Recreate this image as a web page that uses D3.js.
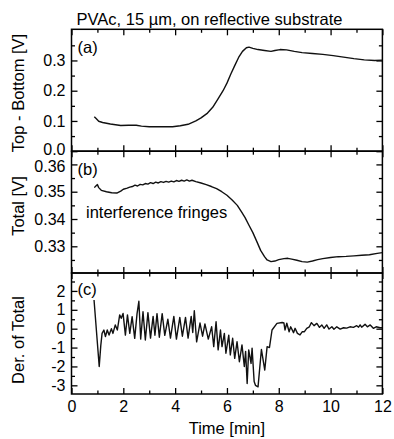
<!DOCTYPE html>
<html><head><meta charset="utf-8">
<script src="https://cdn.jsdelivr.net/npm/d3@7"></script>
<style>html,body{margin:0;padding:0;background:#fff;}svg{display:block;}</style>
</head><body>
<svg id="chart" width="394" height="439"></svg>
<script>
// ---------- data ----------
const titleText = "PVAc, 15 µm, on reflective substrate";
const xLabel = "Time [min]";
const xMajorTicks = [0, 2, 4, 6, 8, 10, 12];
const xMinorTicks = [1, 3, 5, 7, 9, 11];

const panelLabels = ["(a)", "(b)", "(c)"];
const yLabels = ["Top - Bottom [V]", "Total [V]", "Der. of Total"];
const annotationText = "interference fringes";

const yTicksA = [0.0, 0.1, 0.2, 0.3];
const yMinorA = [0.05, 0.15, 0.25, 0.35];
const yTicksB = [0.33, 0.34, 0.35, 0.36];
const yMinorB = [0.325, 0.335, 0.345, 0.355];
const yTicksC = [-3, -2, -1, 0, 1, 2];
const yMinorC = [-2.5, -1.5, -0.5, 0.5, 1.5, 2.5];

// (a) Top - Bottom [V]
const timeA = [0.88,0.95,1.05,1.2,1.5,1.9,2.2,2.5,2.7,3.0,3.5,3.9,4.2,4.5,4.8,5.0,5.25,5.45,5.65,5.85,6.0,6.15,6.3,6.45,6.6,6.75,6.85,7.0,7.2,7.45,7.7,7.85,8.05,8.3,8.6,8.9,9.3,9.7,10.1,10.5,10.9,11.3,11.7,12.0];
const topBottom = [0.114,0.108,0.099,0.095,0.090,0.085,0.086,0.086,0.083,0.081,0.081,0.081,0.084,0.089,0.100,0.110,0.126,0.145,0.172,0.200,0.225,0.255,0.283,0.310,0.330,0.342,0.344,0.340,0.336,0.333,0.330,0.333,0.336,0.335,0.330,0.326,0.323,0.320,0.316,0.311,0.306,0.302,0.300,0.301];

// (b) Total [V]
const timeB = [0.88,0.95,1.0,1.05,1.15,1.35,1.55,1.75,1.9,2.0,2.15,2.25,2.35,2.45,2.55,2.65,2.75,2.85,2.95,3.05,3.15,3.25,3.35,3.45,3.55,3.65,3.75,3.85,3.95,4.05,4.15,4.25,4.35,4.45,4.55,4.65,4.8,5.0,5.2,5.4,5.6,5.8,6.0,6.2,6.4,6.55,6.7,6.85,7.0,7.15,7.3,7.45,7.55,7.7,7.85,8.0,8.2,8.35,8.5,8.7,8.9,9.1,9.3,9.5,9.7,10.0,10.3,10.6,10.9,11.2,11.5,11.8,12.0];
const total = [0.3515,0.3522,0.3526,0.3515,0.3505,0.3500,0.3496,0.3495,0.3502,0.3509,0.3513,0.3517,0.3519,0.3524,0.3521,0.3527,0.3525,0.3530,0.3528,0.3533,0.3530,0.3535,0.3532,0.3537,0.3534,0.3538,0.3535,0.3539,0.3536,0.3541,0.3538,0.3542,0.3539,0.3543,0.3539,0.3542,0.3537,0.3532,0.3526,0.3519,0.3511,0.3500,0.3487,0.3470,0.3450,0.3428,0.3405,0.3377,0.3350,0.3318,0.3285,0.3262,0.3250,0.3244,0.3246,0.3251,0.3255,0.3256,0.3253,0.3249,0.3244,0.3242,0.3246,0.3251,0.3255,0.3259,0.3262,0.3263,0.3265,0.3267,0.3269,0.3274,0.3277];

// (c) Derivative of Total
const timeC = [0.87,1.07,1.13,1.18,1.25,1.31,1.38,1.45,1.54,1.6,1.69,1.77,1.86,1.92,1.99,2.08,2.16,2.25,2.34,2.44,2.53,2.6,2.67,2.76,2.85,2.95,3.05,3.15,3.22,3.3,3.39,3.5,3.6,3.72,3.82,3.95,4.05,4.18,4.28,4.4,4.5,4.62,4.68,4.74,4.83,4.96,5.06,5.15,5.28,5.41,5.49,5.58,5.66,5.75,5.81,5.9,5.96,6.07,6.13,6.22,6.3,6.39,6.48,6.58,6.67,6.72,6.78,6.84,6.93,6.97,7.05,7.1,7.2,7.33,7.46,7.55,7.64,7.74,7.93,8.13,8.2,8.24,8.31,8.40,8.46,8.57,8.63,8.72,8.82,8.91,8.99,9.08,9.18,9.26,9.36,9.47,9.57,9.66,9.75,9.85,9.94,10.05,10.13,10.24,10.37,10.5,10.62,10.75,10.88,11.01,11.08,11.14,11.2,11.33,11.42,11.53,11.65,11.76,11.91,12.0];
const derTotal = [1.52,-2.0,-0.9,-0.25,-0.07,-0.42,-0.07,-0.34,0.0,-0.25,0.2,-0.07,0.73,0.55,0.81,-0.34,0.73,-0.25,0.64,-0.51,0.8,1.45,-0.55,0.9,-0.6,0.85,-0.5,0.65,-0.35,0.8,-0.45,0.8,-0.35,0.5,-0.5,0.65,-0.55,0.6,-0.4,0.6,-0.5,0.65,-0.2,0.95,-0.7,0.3,-0.4,0.25,-0.55,0.1,-0.95,0.37,-1.12,-0.07,-0.95,-0.25,-1.3,-0.34,-1.39,-0.51,-1.57,-0.69,-1.75,-0.86,-2.0,-1.2,-2.9,-1.12,-1.84,-1.03,-2.8,-3.0,-3.08,-1.1,-2.19,-0.95,-1.0,-0.07,0.28,0.33,0.3,-0.07,0.29,-0.16,0.1,-0.21,0.02,-0.25,-0.33,-0.16,-0.16,0.02,0.1,0.32,0.16,0.28,0.07,0.2,0.02,0.2,-0.02,0.1,-0.03,0.1,-0.02,0.05,0.03,0.1,0.07,0.16,0.08,0.2,0.08,0.23,0.1,0.2,0.02,0.1,0.05,0.05];

// ---------- layout ----------
const FONT = "'Liberation Sans', Arial, Helvetica, sans-serif";
const FS = 16.5, TICKFS = 16;
const svg = d3.select("#chart");
const left = 71.5, right = 382.4;
const x = d3.scaleLinear().domain([0, 12]).range([left, right]);

const panels = [
  {top: 29.3, bottom: 151.2, domain: [0, 0.403], ticks: yTicksA, minor: yMinorA, fmt: d3.format(".1f"),
   t: timeA, v: topBottom, label: panelLabels[0], labelY: 53, yLabel: yLabels[0], yLabelC: 93},
  {top: 151.2, bottom: 273, domain: [0.32022, 0.36484], ticks: yTicksB, minor: yMinorB, fmt: d3.format(".2f"),
   t: timeB, v: total, label: panelLabels[1], labelY: 175, yLabel: yLabels[1], yLabelC: 206},
  {top: 273, bottom: 394, domain: [-3.46, 2.95], ticks: yTicksC, minor: yMinorC, fmt: d => String(d),
   t: timeC, v: derTotal, label: panelLabels[2], labelY: 295, yLabel: yLabels[2], yLabelC: 340}
];

const MAJ = 6, MIN = 3.5;

panels.forEach((p, i) => {
  const y = d3.scaleLinear().domain(p.domain).range([p.bottom, p.top]);
  const g = svg.append("g");
  const minorY = p.minor.filter(d => y(d) > p.top + 1 && y(d) < p.bottom - 1);

  const cid = "clip" + i;
  svg.append("clipPath").attr("id", cid).append("rect")
    .attr("x", left).attr("y", p.top).attr("width", right - left).attr("height", p.bottom - p.top);

  const styleAxis = sel => {
    sel.select(".domain").remove();
    sel.selectAll("line").attr("stroke", "#000").attr("stroke-width", 1.3);
    sel.selectAll("text").attr("font-family", FONT).attr("font-size", TICKFS).attr("fill", "#000");
  };
  const isLast = i === panels.length - 1;
  g.append("g").attr("transform", `translate(0,${p.bottom})`)
    .call(d3.axisBottom(x).tickValues(xMajorTicks).tickSize(-MAJ).tickPadding(7)
      .tickFormat(isLast ? d3.format("d") : () => ""))
    .call(styleAxis);
  g.append("g").attr("transform", `translate(0,${p.bottom})`)
    .call(d3.axisBottom(x).tickValues(xMinorTicks).tickSize(-MIN).tickFormat(() => ""))
    .call(styleAxis);
  g.append("g").attr("transform", `translate(0,${p.top})`)
    .call(d3.axisTop(x).tickValues(xMajorTicks).tickSize(-MAJ).tickFormat(() => ""))
    .call(styleAxis);
  g.append("g").attr("transform", `translate(0,${p.top})`)
    .call(d3.axisTop(x).tickValues(xMinorTicks).tickSize(-MIN).tickFormat(() => ""))
    .call(styleAxis);

  const yAx = g.append("g").attr("transform", `translate(${left},0)`)
    .call(d3.axisLeft(y).tickValues(p.ticks).tickSize(-MAJ).tickPadding(6).tickFormat(p.fmt))
    .call(styleAxis);
  // keep the bottom "0.0" of panel (a) from colliding with "0.36" of panel (b)
  if (i === 0) yAx.selectAll(".tick text").filter(d => d === 0).attr("dy", "0.2em");
  if (i === 1) yAx.selectAll(".tick text").filter(d => d === 0.36).attr("dy", "0.42em");
  g.append("g").attr("transform", `translate(${left},0)`)
    .call(d3.axisLeft(y).tickValues(minorY).tickSize(-MIN).tickFormat(() => ""))
    .call(styleAxis);
  g.append("g").attr("transform", `translate(${right},0)`)
    .call(d3.axisRight(y).tickValues(p.ticks).tickSize(-MAJ).tickFormat(() => ""))
    .call(styleAxis);
  g.append("g").attr("transform", `translate(${right},0)`)
    .call(d3.axisRight(y).tickValues(minorY).tickSize(-MIN).tickFormat(() => ""))
    .call(styleAxis);

  g.append("rect").attr("x", left).attr("y", p.top)
    .attr("width", right - left).attr("height", p.bottom - p.top)
    .attr("fill", "none").attr("stroke", "#000").attr("stroke-width", 1.5);

  const pts = p.t.map((t, k) => [t, p.v[k]]);
  g.append("path").datum(pts)
    .attr("clip-path", `url(#${cid})`)
    .attr("fill", "none").attr("stroke", "#111").attr("stroke-width", 1.4)
    .attr("stroke-linejoin", "round")
    .attr("d", d3.line().x(d => x(d[0])).y(d => y(d[1])));

  g.append("text").attr("x", left + 6).attr("y", p.labelY)
    .attr("font-family", FONT).attr("font-size", FS).text(p.label);

  g.append("text").attr("transform", `translate(24,${p.yLabelC}) rotate(-90)`)
    .attr("text-anchor", "middle").attr("font-family", FONT).attr("font-size", FS)
    .text(p.yLabel);
});

svg.append("text").attr("x", 86).attr("y", 217.5)
  .attr("font-family", FONT).attr("font-size", FS).text(annotationText);

svg.append("text").attr("x", 209.5).attr("y", 24.5)
  .attr("text-anchor", "middle").attr("font-family", FONT).attr("font-size", FS).text(titleText);

svg.append("text").attr("x", x(6)).attr("y", 434)
  .attr("text-anchor", "middle").attr("font-family", FONT).attr("font-size", FS).text(xLabel);
</script>
</body></html>
